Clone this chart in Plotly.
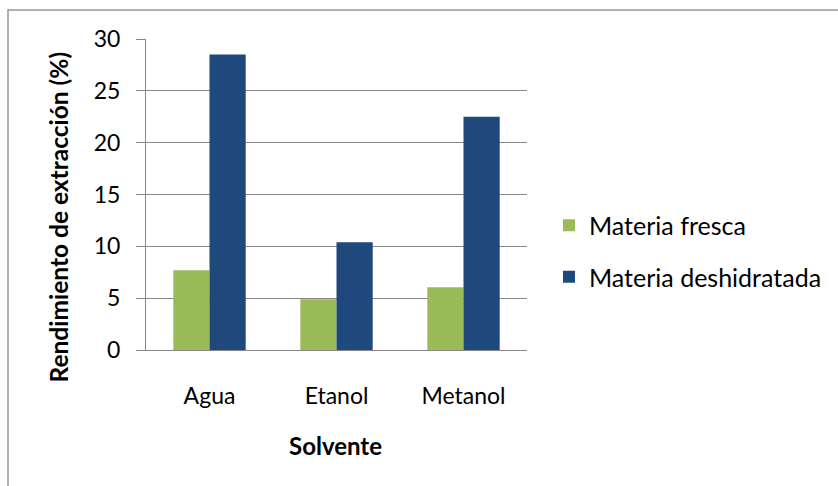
import plotly.graph_objects as go

categories = ["Agua", "Etanol", "Metanol"]
fresca = [7.7, 4.9, 6.05]
deshidratada = [28.5, 10.4, 22.5]
series_names = ["Materia fresca", "Materia deshidratada"]
y_ticks = [0, 5, 10, 15, 20, 25, 30]
x_title = "Solvente"
y_title = "Rendimiento de extracción (%)"

W, H = 838, 486
L, R, T, B = 146, 311, 39, 136
pw = W - L - R
ph = H - T - B


def px(x):
    return (x - L) / pw


def py(y):
    return (H - B - y) / ph


GRID = "#868686"
FONT = "Lato"

fig = go.Figure()
fig.add_bar(x=categories, y=fresca, name=series_names[0], marker_color="#9BBB59",
            marker_line_width=0, legendgroup="a")
fig.add_bar(x=categories, y=deshidratada, name=series_names[1], marker_color="#1F497D",
            marker_line_width=0, legendgroup="b")

fig.update_layout(
    width=W, height=H,
    margin=dict(l=L, r=R, t=T, b=B, autoexpand=False),
    barmode="group", bargap=0.43, bargroupgap=0,
    plot_bgcolor="white", paper_bgcolor="white",
    font=dict(family=FONT, size=23, color="black"),
    showlegend=True,
    legend=dict(x=px(549), y=py(251), xanchor="left", yanchor="middle",
                tracegroupgap=16, font=dict(size=25), itemwidth=30,
                bgcolor="rgba(0,0,0,0)"),
    xaxis=dict(showline=True, linecolor=GRID, linewidth=1, ticks="",
               ticklabelstandoff=25, showgrid=False, automargin=False),
    yaxis=dict(range=[0, 30], tickvals=y_ticks, showgrid=True, gridcolor=GRID,
               gridwidth=1, showline=True, linecolor=GRID, linewidth=1,
               ticks="outside", ticklen=9, tickcolor=GRID, ticklabelstandoff=11,
               zeroline=False, automargin=False),
    annotations=[
        dict(text="<b>" + y_title + "</b>", x=px(58), y=py(217.5), xref="paper", yref="paper",
             textangle=-90, showarrow=False, font=dict(size=24.5), xanchor="center", yanchor="middle"),
        dict(text="<b>" + x_title + "</b>", x=px(335), y=py(445), xref="paper", yref="paper",
             showarrow=False, font=dict(size=24), xanchor="center", yanchor="middle"),
    ],
    shapes=[
        dict(type="rect", xref="paper", yref="paper", x0=px(8), x1=px(850), y0=py(500), y1=py(10),
             line=dict(color="#999999", width=1.5), layer="below"),
    ],
)

fig.write_html("out.html")
